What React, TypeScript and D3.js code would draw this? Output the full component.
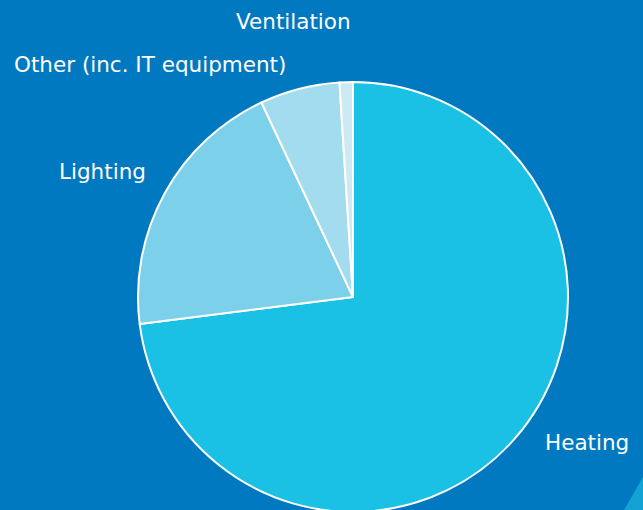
import React from 'react';
import * as d3 from 'd3';

const categories = ['Heating', 'Lighting', 'Other (inc. IT equipment)', 'Ventilation'];
const values = [73, 20, 6, 1];
const colors = ['#1bc1e5', '#7dd0ea', '#a3dcef', '#cde9f3'];

const W = 643;
const H = 510;

const App = () => {
  const cx = 353;
  const cy = 297;
  const r = 215;

  const pie = d3.pie<number>().sort(null).value((d) => d);
  const arcs = pie(values);
  const arc = d3.arc<d3.PieArcDatum<number>>().innerRadius(0).outerRadius(r);

  // label positions (placed by hand around the pie)
  const labels = [
    { x: 545, y: 450 },
    { x: 59, y: 179 },
    { x: 14, y: 72 },
    { x: 236, y: 29 }
  ];

  return (
    <div style={{ position: 'absolute', left: 0, top: 0 }}>
      <svg width={W} height={H} style={{ display: 'block' }}>
        <rect width={W} height={H} fill="#0179c1" />
        <path d={`M${W},477 L${W},${H} L624,${H} Z`} fill="#12a3d4" />
        <g transform={`translate(${cx},${cy})`}>
          {arcs.map((a, i) => (
            <path key={i} d={arc(a) || ''} fill={colors[i]} stroke="#fff" strokeWidth={2} strokeLinejoin="round" />
          ))}
        </g>
        {categories.map((c, i) => (
          <text key={c} x={labels[i].x} y={labels[i].y} fill="#fff" fontFamily="DejaVu Sans" fontSize={21.5}>
            {c}
          </text>
        ))}
      </svg>
    </div>
  );
};

export default App;
